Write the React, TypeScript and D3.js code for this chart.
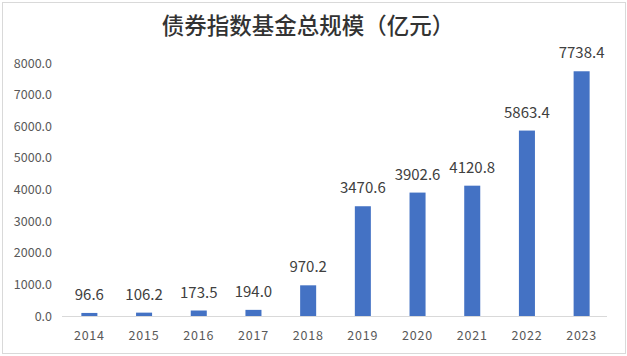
import React from "react";
import * as d3 from "d3";

const years: string[] = ["2014", "2015", "2016", "2017", "2018", "2019", "2020", "2021", "2022", "2023"];
const values: number[] = [96.6, 106.2, 173.5, 194.0, 970.2, 3470.6, 3902.6, 4120.8, 5863.4, 7738.4];
const yTicks: number[] = [0, 1000, 2000, 3000, 4000, 5000, 6000, 7000, 8000];
const title = "债券指数基金总规模（亿元）";

const W = 627;
const H = 356;
const margin = { left: 62, right: 18, top: 63, bottom: 40 };

export default function App() {
  const x = d3
    .scaleBand<string>()
    .domain(years)
    .range([margin.left, W - margin.right])
    .paddingInner(0.707)
    .paddingOuter(0.354);
  const y = d3.scaleLinear().domain([0, 8000]).range([H - margin.bottom, margin.top]);
  const font = "'Noto Sans CJK SC', 'Noto Sans', sans-serif";

  return (
    <svg
      width={W}
      height={H}
      style={{ position: "absolute", left: 0, top: 0, background: "#fff" }}
      fontFamily={font}
    >
      <rect x={2.5} y={2.5} width={W - 4} height={H - 5} fill="#fff" stroke="#d9d9d9" strokeWidth={1} />
      <text x={308} y={34} textAnchor="middle" fontSize={22.5} fill="#333" fontWeight={500}>
        {title}
      </text>
      {yTicks.map((t) => (
        <text
          key={t}
          x={52}
          y={y(t)}
          dy="0.36em"
          textAnchor="end"
          fontSize={12.5}
          fill="#595959"
        >
          {d3.format(".1f")(t)}
        </text>
      ))}
      <line
        x1={margin.left}
        x2={W - 20}
        y1={y(0) + 0.5}
        y2={y(0) + 0.5}
        stroke="#d9d9d9"
        strokeWidth={1}
      />
      {years.map((yr, i) => {
        const bx = x(yr)!;
        const v = values[i];
        return (
          <g key={yr}>
            <rect x={bx} y={y(v)} width={x.bandwidth()} height={y(0) - y(v)} fill="#4472C4" />
            <text
              x={bx + x.bandwidth() / 2}
              y={y(v) - 13}
              textAnchor="middle"
              fontSize={15}
              fill="#404040"
            >
              {d3.format(".1f")(v)}
            </text>
            <text
              x={bx + x.bandwidth() / 2}
              y={340}
              textAnchor="middle"
              fontSize={12.5}
              fill="#595959"
              letterSpacing={0.8}
            >
              {yr}
            </text>
          </g>
        );
      })}
    </svg>
  );
}
